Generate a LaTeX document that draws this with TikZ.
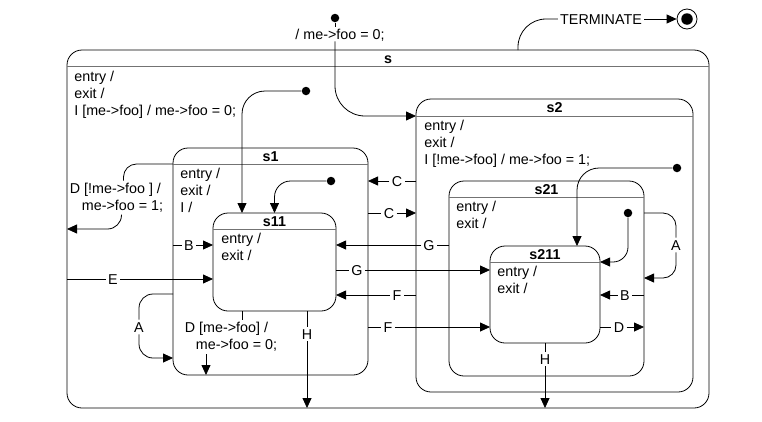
\documentclass[tikz,border=0pt]{standalone}
\usepackage{fontspec}
\setmainfont{Liberation Sans}
\usetikzlibrary{arrows.meta,positioning}

\begin{document}
\begin{tikzpicture}[x=1pt,y=-1pt,line width=0.8pt,>={Triangle[length=10pt,width=9pt]}]
\tikzstyle{every node}+=[inner sep=0pt,font=\fontsize{14.3}{17}\selectfont]
\tikzstyle{state}=[draw,rectangle,rounded corners=15pt,outer sep=0pt,anchor=north west]
\tikzstyle{title}=[font=\fontsize{14.3}{17}\selectfont\bfseries,text height=10pt,text depth=0pt]
\tikzstyle{acts}=[align=left,anchor=north west]
\tikzstyle{lbl}=[inner sep=2pt,text height=10pt,text depth=0pt]
\tikzstyle{guard}=[inner sep=2pt,align=left]
\tikzstyle{ini}=[circle,fill,minimum size=8.5pt]
\tikzstyle{sep}=[black!55]
\useasboundingbox (0,0) rectangle (762,421);
% states
\node[state,minimum width=642pt,minimum height=358pt] (s) at (67,50) {};
\node[state,minimum width=195pt,minimum height=227pt] (s1) at (173,148) {};
\node[state,minimum width=123pt,minimum height=98pt] (s11) at (213,213) {};
\node[state,minimum width=277pt,minimum height=293pt] (s2) at (416,99) {};
\node[state,minimum width=195pt,minimum height=195pt] (s21) at (449,181) {};
\node[state,minimum width=110pt,minimum height=97pt] (s211) at (490,246) {};
\draw[sep] ([yshift=-16pt]s.north west) -- ([yshift=-16pt]s.north east);
\draw[sep] ([yshift=-16pt]s1.north west) -- ([yshift=-16pt]s1.north east);
\draw[sep] ([yshift=-16pt]s11.north west) -- ([yshift=-16pt]s11.north east);
\draw[sep] ([yshift=-17pt]s2.north west) -- ([yshift=-17pt]s2.north east);
\draw[sep] ([yshift=-16pt]s21.north west) -- ([yshift=-16pt]s21.north east);
\draw[sep] ([yshift=-16pt]s211.north west) -- ([yshift=-16pt]s211.north east);
\node[title] (s-name) at ([yshift=-8pt]s.north) {s};
\node[title] (s1-name) at ([yshift=-8pt]s1.north) {s1};
\node[title] (s11-name) at ([yshift=-8pt]s11.north) {s11};
\node[title] (s2-name) at ([yshift=-8.5pt]s2.north) {s2};
\node[title] (s21-name) at ([yshift=-8pt]s21.north) {s21};
\node[title] (s211-name) at ([yshift=-8pt]s211.north) {s211};
\node[acts] (s-acts) at ([xshift=7pt,yshift=-20.5pt]s.north west) {entry /\\exit /\\I [me->foo] / me->foo = 0;};
\node[acts] (s1-acts) at ([xshift=7pt,yshift=-20pt]s1.north west) {entry /\\exit /\\I /};
\node[acts] (s11-acts) at ([xshift=8pt,yshift=-20pt]s11.north west) {entry /\\exit /};
\node[acts] (s2-acts) at ([xshift=8pt,yshift=-20.5pt]s2.north west) {entry /\\exit /\\I [!me->foo] / me->foo = 1;};
\node[acts] (s21-acts) at ([xshift=7pt,yshift=-20pt]s21.north west) {entry /\\exit /};
\node[acts] (s211-acts) at ([xshift=7pt,yshift=-20pt]s211.north west) {entry /\\exit /};
% initial transitions
\node[ini] (ini-s) at (335,18) {};
\node[lbl] (ini-s-l) at (340,34) {/ me->foo = 0;};
\draw (ini-s) -- (ini-s-l.north -| ini-s);
\draw[->,rounded corners=30pt] (ini-s-l.south -| ini-s) |- ([yshift=-17pt]s2.north west);
\node[ini] (ini-s1) at (306,91) {};
\draw[->,rounded corners=23pt] (ini-s1) -| ([xshift=29pt]s11.north west);
\node[ini] (ini-s11) at (331,181) {};
\draw[->,rounded corners=16pt] (ini-s11) -| (s11.north);
\node[ini] (ini-s21) at (677,168) {};
\draw[->,rounded corners=22pt] (ini-s21) -| ([xshift=-23pt]s211.north east);
\node[ini] (ini-s211) at (628,213) {};
\draw[->,rounded corners=15pt] (ini-s211) |- ([yshift=-16pt]s211.north east);
% terminate
\node[lbl] (term-l) at (601,19) {TERMINATE};
\node[circle,draw,minimum size=20pt] (fin) at (687,19) {};
\node[circle,fill,minimum size=11.5pt] (fin-dot) at (fin) {};
\draw[rounded corners=28pt] ([xshift=451pt]s.north west) |- (term-l);
\draw[->] (term-l) -- (fin);
% D guards
\node[guard] (d1-l) at (116.5,197.5) {D [!me->foo ] /\\\hspace*{12pt}me->foo = 1;};
\draw[rounded corners=13pt] ([yshift=-16pt]s1.north west) -| ([xshift=7pt]d1-l.north);
\draw[->,rounded corners=14pt] ([xshift=5pt]d1-l.south) |- ([yshift=-179pt]s.north west);
\node[guard] (d2-l) at (231,337) {D [me->foo] /\\\hspace*{11pt}me->foo = 0;};
\coordinate (d2-a) at ([xshift=29pt]s11.south west);
\coordinate (d2-b) at ([xshift=33pt]s1.south west);
\draw (d2-a) -- (d2-l.north -| d2-a);
\draw[->] (d2-l.south -| d2-b) -- (d2-b);
% H
\node[lbl] (h1-l) at (307,334) {H};
\draw ([xshift=-29pt]s11.south east) -- (h1-l);
\draw[->] (h1-l) -- (s.south -| h1-l);
\node[lbl] (h2-l) at (545,359) {H};
\draw (s211.south) -- (h2-l);
\draw[->] (h2-l) -- (s.south -| h2-l);
% E, B
\node[lbl] (e-l) at (113,279) {E};
\draw (s.west |- e-l) -- (e-l);
\draw[->] (e-l) -- (s11.west |- e-l);
\node[lbl] (b1-l) at (189,245) {B};
\draw (s1.west |- b1-l) -- (b1-l);
\draw[->] (b1-l) -- (s11.west |- b1-l);
\node[lbl] (b2-l) at (625,295) {B};
\draw (s21.east |- b2-l) -- (b2-l);
\draw[->] (b2-l) -- (s211.east |- b2-l);
% A loops
\node[lbl] (a1-l) at (139,327) {A};
\draw[rounded corners=14pt] ([yshift=-146pt]s1.north west) -| (a1-l);
\draw[->,rounded corners=14pt] (a1-l) |- ([yshift=17pt]s1.south west);
\node[lbl] (a2-l) at (676,245) {A};
\draw[rounded corners=13pt] ([yshift=-32pt]s21.north east) -| (a2-l);
\draw[->,rounded corners=13pt] (a2-l) |- ([yshift=-97pt]s21.north east);
% C, G, F, D
\node[lbl] (c1-l) at (397,181) {C};
\draw (s2.west |- c1-l) -- (c1-l);
\draw[->] (c1-l) -- (s1.east |- c1-l);
\node[lbl] (c2-l) at (389,213) {C};
\draw (s1.east |- c2-l) -- (c2-l);
\draw[->] (c2-l) -- (s2.west |- c2-l);
\node[lbl] (g1-l) at (429,245) {G};
\draw (s21.west |- g1-l) -- (g1-l);
\draw[->] (g1-l) -- (s11.east |- g1-l);
\node[lbl] (g2-l) at (357,270) {G};
\draw (s11.east |- g2-l) -- (g2-l);
\draw[->] (g2-l) -- (s211.west |- g2-l);
\node[lbl] (f1-l) at (397,295) {F};
\draw (s2.west |- f1-l) -- (f1-l);
\draw[->] (f1-l) -- (s11.east |- f1-l);
\node[lbl] (f2-l) at (388,327) {F};
\draw (s1.east |- f2-l) -- (f2-l);
\draw[->] (f2-l) -- (s211.west |- f2-l);
\node[lbl] (d3-l) at (619,327) {D};
\draw (s211.east |- d3-l) -- (d3-l);
\draw[->] (d3-l) -- (s21.east |- d3-l);
\end{tikzpicture}
\end{document}
